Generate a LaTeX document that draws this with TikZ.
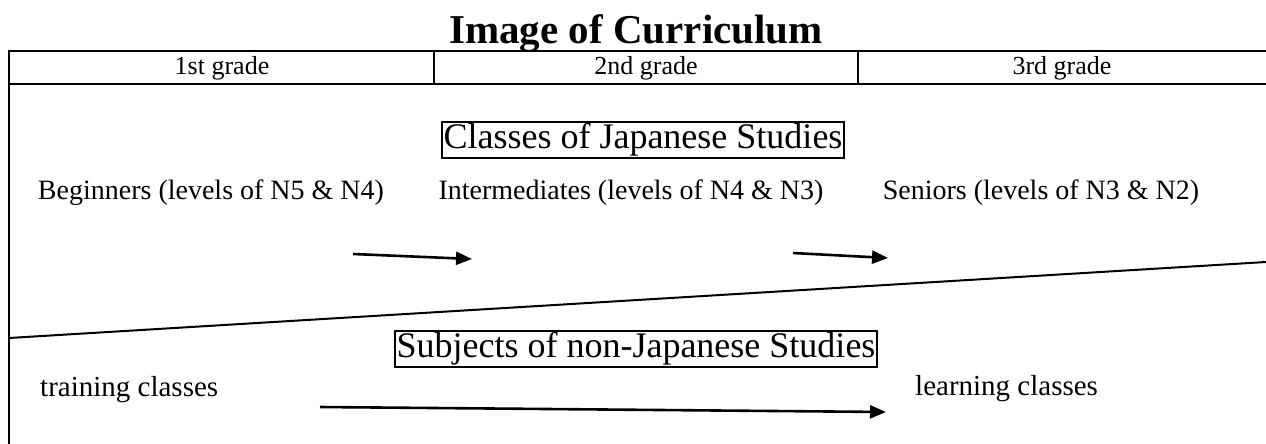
\documentclass[tikz,border=0pt]{standalone}
\usepackage{fontspec}
\setmainfont{Liberation Serif}
\usetikzlibrary{arrows.meta}
\begin{document}
\begin{tikzpicture}[x=1pt,y=-1pt,
  rule/.style={line width=2.2pt},
  slant/.style={line width=2pt},
  label/.style={inner sep=0pt, anchor=center},
  boxed/.style={draw, line width=1.9pt, inner sep=1.5pt},
  flow/.style={line width=2.6pt, -{Triangle[length=16pt,width=13pt]}},
  hdr/.style={label, font=\fontsize{26}{28}\selectfont},
  lvl/.style={label, font=\fontsize{28}{30}\selectfont},
  big/.style={boxed, font=\fontsize{36}{38}\selectfont},
  small/.style={inner sep=0pt, anchor=west, font=\fontsize{29}{31}\selectfont}]
\useasboundingbox (0,0) rectangle (1266,444);
\fill[white] (0,0) rectangle (1266,444);
% title
\node[label, font=\bfseries\fontsize{41}{43}\selectfont, anchor=base] (title) at (636,44) {Image of Curriculum};
% table frame
\draw[rule] (9,51) -- (1266,51);
\draw[rule] (9,84) -- (1266,84);
\draw[rule] (9,50) -- (9,444);
\draw[rule] (434,51) -- (434,84);
\draw[rule] (858,51) -- (858,84);
\node[hdr] (g1) at (222,68) {1st grade};
\node[hdr] (g2) at (646,68) {2nd grade};
\node[hdr] (g3) at (1062,68) {3rd grade};
% Japanese studies
\node[big] (jp) at (643,140) {Classes of Japanese Studies};
\node[lvl] (beg) at (211,193) {Beginners (levels of N5 \& N4)};
\node[lvl] (mid) at (631,193) {Intermediates (levels of N4 \& N3)};
\node[lvl] (sen) at (1041,193) {Seniors (levels of N3 \& N2)};
\coordinate (a1s) at (353,254);
\coordinate (a1e) at (472,259);
\coordinate (a2s) at (793,253);
\coordinate (a2e) at (888,258);
\draw[flow] (a1s) -- (a1e);
\draw[flow] (a2s) -- (a2e);
% divider
\coordinate (dl) at (9,338);
\coordinate (dr) at (1266,262);
\draw[slant] (dl) -- (dr);
% non-Japanese studies
\node[big] (nj) at (636,349) {Subjects of non-Japanese Studies};
\node[small] (tr) at (40,390) {training classes};
\node[small] (le) at (915,389) {learning classes};
\coordinate (a3s) at (320,407);
\coordinate (a3e) at (886,412);
\draw[flow] (a3s) -- (a3e);
\end{tikzpicture}
\end{document}
